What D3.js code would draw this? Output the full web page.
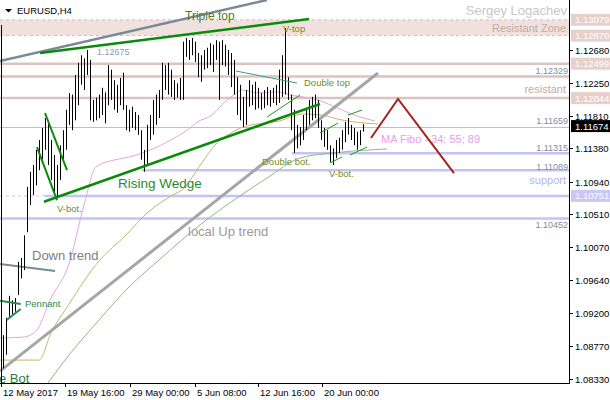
<!DOCTYPE html>
<html><head><meta charset="utf-8">
<script src="https://cdn.jsdelivr.net/npm/d3@7"></script>
<style>body{margin:0;background:#fff}svg{display:block}text{font-family:"Liberation Sans",Arial,sans-serif}</style>
</head><body><svg id="c" width="610" height="400"></svg>
<script>
// ---- data ----
const highs=[1.0891,1.0914,1.0943,1.0937,1.0940,1.0988,1.0993,1.1023,1.1087,1.1107,
1.1116,1.1136,1.1149,1.1165,1.1178,1.1173,1.1149,1.1129,1.1116,1.1142,
1.1162,1.1189,1.1211,1.1209,1.1235,1.1251,1.1261,1.1257,1.1268,1.1255,
1.1202,1.1205,1.1209,1.1218,1.1212,1.1248,1.1242,1.1228,1.1222,1.1231,
1.1238,1.1195,1.1189,1.1193,1.1186,1.1182,1.1162,1.1136,1.1169,1.1182,
1.1202,1.1209,1.1215,1.1251,1.1248,1.1251,1.1242,1.1228,1.1224,1.1231,
1.1279,1.1284,1.1281,1.1284,1.1279,1.1264,1.1261,1.1268,1.1271,1.1277,
1.1275,1.1281,1.1279,1.1281,1.1275,1.1268,1.1264,1.1255,1.1232,1.1222,
1.1206,1.1215,1.1228,1.1222,1.1226,1.1218,1.1211,1.1215,1.1219,1.1215,
1.1218,1.1222,1.1242,1.1261,1.1297,1.1232,1.1209,1.1189,1.1169,1.1166,
1.1182,1.1191,1.1202,1.1206,1.1209,1.1202,1.1175,1.1165,1.1162,1.1142,
1.1138,1.1149,1.1152,1.1162,1.1173,1.1178,1.1169,1.1165,1.1160,1.1162,1.1170];
const lows=[1.0847,1.0865,1.0914,1.0918,1.0922,1.0944,1.0966,1.0977,1.1027,1.1063,
1.1076,1.1089,1.1109,1.1123,1.1136,1.1116,1.1096,1.1080,1.1074,1.1096,
1.1123,1.1136,1.1169,1.1162,1.1175,1.1195,1.1222,1.1215,1.1235,1.1175,
1.1173,1.1175,1.1178,1.1182,1.1171,1.1195,1.1202,1.1189,1.1185,1.1195,
1.1189,1.1162,1.1160,1.1165,1.1162,1.1156,1.1123,1.1107,1.1116,1.1149,
1.1156,1.1169,1.1178,1.1202,1.1215,1.1209,1.1206,1.1202,1.1205,1.1202,
1.1202,1.1259,1.1255,1.1261,1.1252,1.1232,1.1226,1.1242,1.1244,1.1248,
1.1239,1.1255,1.1202,1.1248,1.1246,1.1235,1.1219,1.1209,1.1182,1.1175,
1.1166,1.1169,1.1193,1.1195,1.1189,1.1191,1.1189,1.1191,1.1195,1.1193,
1.1198,1.1195,1.1198,1.1206,1.1209,1.1202,1.1162,1.1132,1.1138,1.1142,
1.1149,1.1162,1.1169,1.1175,1.1178,1.1165,1.1149,1.1140,1.1136,1.1120,
1.1116,1.1125,1.1132,1.1136,1.1146,1.1156,1.1149,1.1142,1.1136,1.1142,1.1160];
const lastPrice=1.11674;

const ma34Bars=[-1,7,11,16,22,27,31,37,42,49,56,61,66,68,76,80,85,89,92,96,105,113,119,124];
const ma34=[1.08871,1.08885,1.08964,1.09400,1.09850,1.10630,1.11133,1.11225,1.11265,1.11357,1.11490,1.11609,1.11754,1.11781,1.12058,1.12151,1.12111,1.12124,1.12124,1.12085,1.12019,1.11886,1.11794,1.11741];
const ma55Bars=[-1,12,16,22,32,41,48,56,60,66,71,76,80,92,100,106,113,125];
const ma55=[1.08580,1.08580,1.08937,1.09321,1.09890,1.10233,1.10524,1.10749,1.10842,1.11172,1.11437,1.11582,1.11662,1.11741,1.11833,1.11820,1.11754,1.11701];
const ma89Bars=[15,22,32,42,52,66,77,88,99,110,128];
const ma89=[1.08276,1.08647,1.09109,1.09546,1.09903,1.10379,1.10696,1.10987,1.11252,1.11318,1.11371];

const yTicks=[1.12680,1.12250,1.11810,1.11380,1.10940,1.10510,1.10070,1.09640,1.09200,1.08770,1.08330];
const xTickLabels=["12 May 2017","19 May 16:00","29 May 00:00","5 Jun 08:00","12 Jun 16:00","20 Jun 00:00"];
const xTickBars=[-0.67,20.67,42.33,64,85,106.33];

const zone=[1.12870,1.13079];
const pinkLevels=[1.12499,1.12329,1.12044];
const grayLevel=1.11659;
const blueLevels=[1.11315,1.11089,1.10751,1.10452];
const blueStartBars=[96.3,46.3,14,-1];

// trend lines: [bar0, price0, bar1, price1]
const steelTop=[-1,1.12534,88,1.13341];
const tripleTop=[12.33,1.12640,102,1.13090];
const wedgeBottom=[13.67,1.10674,105.67,1.11966];
const localUp=[-1,1.08435,125,1.12376];
const downTrend=[-1,1.09850,17.33,1.09757];
const pennantUp=[-1,1.09365,5.9,1.09321];
const pennantLow=[1.23,1.09109,5.9,1.09255];
const vbotA=[14,1.11847,21.33,1.11093];
const vbotB=[11.33,1.11397,18,1.10696];
const smallGreen=[[77.67,1.12402,98,1.12243],[88,1.11794,99,1.12085],[105.67,1.11582,111.67,1.11714],
 [115,1.11820,119.67,1.11886],[109,1.11186,113,1.11265],[115.67,1.11291,121.33,1.11397]];
const forecastBars=[122.67,131.67,150.33];
const forecastPrices=[1.11516,1.12032,1.11053];

// ---- chart ----
const W=569,H=383;
const svg=d3.select("#c");
const x=d3.scaleLinear().domain([0,120]).range([3,363]);
const y=d3.scaleLinear().domain([1.08277,1.13341]).range([H,0]);
const g=svg.append("g");
const clip=svg.append("clipPath").attr("id","cp").append("rect").attr("width",W).attr("height",H);
const plot=g.append("g").attr("clip-path","url(#cp)");

// resistance zone
plot.append("rect").attr("x",0).attr("width",W).attr("y",y(zone[1])).attr("height",y(zone[0])-y(zone[1])).attr("fill","#f1e1de");
zone.forEach(p=>plot.append("line").attr("x1",0).attr("x2",W).attr("y1",y(p)).attr("y2",y(p)).attr("stroke","#ddb9b2").attr("stroke-dasharray","3,3"));
pinkLevels.forEach(p=>plot.append("line").attr("x1",0).attr("x2",W).attr("y1",y(p)).attr("y2",y(p)).attr("stroke","#dcc3bf").attr("stroke-width",2.5));
plot.append("line").attr("x1",0).attr("x2",W).attr("y1",Math.round(y(grayLevel))+0.5).attr("y2",Math.round(y(grayLevel))+0.5).attr("stroke","#c0c0c0");
plot.append("line").attr("x1",0).attr("x2",W).attr("y1",y(1.10751)).attr("y2",y(1.10751)).attr("stroke","#c4c4f0").attr("stroke-dasharray","3,3");
blueLevels.forEach((p,i)=>plot.append("line").attr("x1",Math.max(0,x(blueStartBars[i]))).attr("x2",W).attr("y1",y(p)).attr("y2",y(p)).attr("stroke","#c4c4f4").attr("stroke-width",2.5));

// MAs
const ln=d3.line().x(d=>x(d[0])).y(d=>y(d[1])).curve(d3.curveMonotoneX);
plot.append("path").attr("d",ln(ma89Bars.map((b,i)=>[b,ma89[i]]))).attr("fill","none").attr("stroke","#8cbc7c").attr("stroke-width",1);
plot.append("path").attr("d",ln(ma55Bars.map((b,i)=>[b,ma55[i]]))).attr("fill","none").attr("stroke","#c8b46c").attr("stroke-width",1);
plot.append("path").attr("d",ln(ma34Bars.map((b,i)=>[b,ma34[i]]))).attr("fill","none").attr("stroke","#e4a4e4").attr("stroke-width",1);

function seg(s,color,w,dash){const l=plot.append("line").attr("x1",x(s[0])).attr("y1",y(s[1])).attr("x2",x(s[2])).attr("y2",y(s[3])).attr("stroke",color).attr("stroke-width",w);if(dash)l.attr("stroke-dasharray",dash);return l;}
seg(localUp,"#a6a6a6",3);
seg(steelTop,"#7b8896",2.5);
seg(downTrend,"#7b8896",2);

// bars
plot.selectAll("line.bar").data(highs).join("line").attr("class","bar")
 .attr("x1",(d,i)=>Math.round(x(i))+0.5).attr("x2",(d,i)=>Math.round(x(i))+0.5)
 .attr("y1",d=>y(d)).attr("y2",(d,i)=>y(lows[i])).attr("stroke","#000").attr("stroke-width",1);

seg(tripleTop,"#0a8a0a",2.5);
seg(wedgeBottom,"#0a8a0a",2.5);
seg(pennantUp,"#2a8a4a",2);
seg(pennantLow,"#2a8a4a",2);
seg(vbotA,"#0a8a0a",2);
seg(vbotB,"#0a8a0a",2);
smallGreen.forEach((s,i)=>seg(s,i===0?"#3aa070":"#1a9a1a",1));
plot.append("path").attr("d",d3.line().x(d=>x(d[0])).y(d=>y(d[1]))(forecastBars.map((b,i)=>[b,forecastPrices[i]]))).attr("fill","none").attr("stroke","#a52323").attr("stroke-width",2);

// texts
function txt(t,px,py,col,size,anchor){return svg.append("text").attr("x",px).attr("y",py).attr("fill",col).attr("font-size",size).attr("text-anchor",anchor||"start").text(t);}
svg.append("path").attr("d","M5,9L12,9L8.5,12.5Z").attr("fill","#000");
txt("EURUSD,H4",17,13.5,"#000","9.5px");
txt("Sergey Logachev",567,15,"#c8c8c8","13px","end");
txt("Resistant Zone",566,32,"#c4aaa6","11px","end");
txt("resistant",566,93,"#c4aaa6","11px","end");
txt("support",566,184,"#b4b4ea","11px","end");
[[1.12329,73.5],[1.11659,123.5],[1.11315,150.5],[1.11089,169.5],[1.10452,227.5]].forEach(d=>txt(d[0].toFixed(5),568,d[1],"#7f8c9c","9px","end"));
txt("1.12675",97,54.5,"#8c9cb4","9px");
txt("MA Fibo - 34; 55; 89",381,143,"#e6a0e6","11px");
const ol="#7a8a20";
txt("Triple top",185,20,"#4f7a2a","12px");
txt("V-top",283,32,ol,"9.5px");
txt("Double top",304,86,ol,"9.5px");
txt("Double bot.",262,165,ol,"9.5px");
txt("V-bot.",329,177,ol,"9.5px");
txt("V-bot.",57,212,ol,"9.5px");
txt("Rising Wedge",118,188,"#2a8a2a","13.5px");
txt("Down trend",32,260,"#808080","13px");
txt("local Up trend",188,236,"#9a9a9a","13px");
txt("Pennant",25,307,"#2a8a4a","9.5px");
txt("e Bot",-1,383,"#2a7a4a","13px");

// axes
svg.append("line").attr("x1",1.5).attr("x2",1.5).attr("y1",25).attr("y2",H).attr("stroke","#000");
svg.append("line").attr("x1",W+0.5).attr("x2",W+0.5).attr("y1",0).attr("y2",H+1).attr("stroke","#000");
svg.append("line").attr("x1",0).attr("x2",W+1).attr("y1",H+0.5).attr("y2",H+0.5).attr("stroke","#000");
const ya=svg.append("g");
yTicks.forEach(p=>{const yy=Math.round(y(p))+0.5;ya.append("line").attr("x1",W).attr("x2",W+4).attr("y1",yy).attr("y2",yy).attr("stroke","#000");
 txt(p.toFixed(5),575,yy+3.5,"#000","9.5px");});
function box(p,bg,fg){const yy=y(p);svg.append("rect").attr("x",W+2).attr("y",yy-6).attr("width",40).attr("height",12).attr("fill",bg);txt(p.toFixed(5),575,yy+3.5,fg,"9.5px");}
box(1.13079,"#e6d0cc","#fff");box(1.12870,"#e6d0cc","#fff");box(1.12499,"#e6d0cc","#fff");box(1.12044,"#e6d0cc","#fff");
box(lastPrice,"#000","#fff");box(1.10751,"#c8c8f6","#fff");
xTickBars.forEach((b,i)=>{const xx=Math.round(x(b))+0.5;svg.append("line").attr("x1",xx).attr("x2",xx).attr("y1",H).attr("y2",H+4).attr("stroke","#000");
 txt(xTickLabels[i],xx+1.5,395.5,"#000","9.5px");});
</script></body></html>
